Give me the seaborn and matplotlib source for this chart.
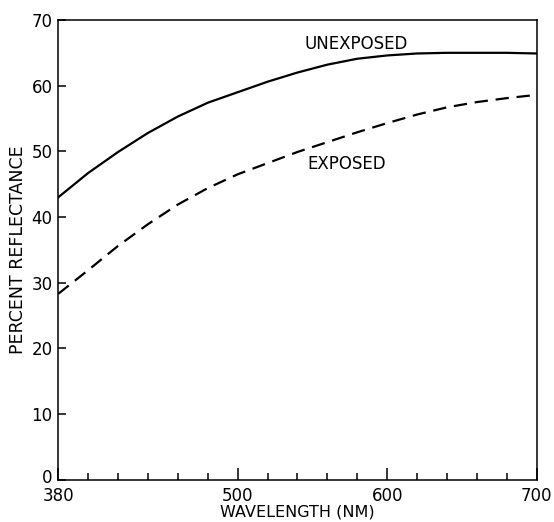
import matplotlib
matplotlib.use("Agg")
import matplotlib.pyplot as plt
import matplotlib.transforms as mtransforms
import seaborn as sns
import pandas as pd
from matplotlib.ticker import MultipleLocator, FixedLocator

wavelength = [380, 400, 420, 440, 460, 480, 500, 520, 540, 560, 580, 600, 620, 640, 660, 680, 700]
unexposed = [43.0, 46.7, 49.9, 52.8, 55.3, 57.4, 59.0, 60.6, 62.0, 63.2, 64.1, 64.6, 64.9, 65.0, 65.0, 65.0, 64.9]
exposed = [28.3, 31.9, 35.6, 38.9, 41.9, 44.4, 46.5, 48.2, 49.9, 51.4, 52.9, 54.3, 55.6, 56.7, 57.5, 58.1, 58.6]
series_names = ["UNEXPOSED", "EXPOSED"]
x_tick_labels = [380, 500, 600, 700]
y_ticks = [0, 10, 20, 30, 40, 50, 60, 70]

df = pd.DataFrame({
    "wavelength": wavelength * 2,
    "reflectance": unexposed + exposed,
    "sample": [series_names[0]] * len(wavelength) + [series_names[1]] * len(wavelength),
})

sns.set_theme(style="white")
plt.rcParams["font.family"] = ["DejaVu Sans"]

fig = plt.figure(figsize=(5.54, 5.22), dpi=100)
ax = fig.add_axes([0.1052, 0.0812, 0.8636, 0.8805])

sns.lineplot(data=df, x="wavelength", y="reflectance", style="sample",
             dashes={"UNEXPOSED": "", "EXPOSED": (6, 3.5)},
             color="black", linewidth=1.6, legend=False, ax=ax)

ax.set_xlim(380, 700)
ax.set_ylim(0, 70)

ax.xaxis.set_major_locator(FixedLocator(x_tick_labels))
ax.xaxis.set_minor_locator(MultipleLocator(20))
ax.set_xticklabels([str(v) for v in x_tick_labels])
ax.yaxis.set_major_locator(FixedLocator(y_ticks))
ax.set_yticklabels([str(v) for v in y_ticks])

ax.tick_params(axis="x", which="major", direction="in", length=9, width=1.1,
               color="black", labelcolor="black", labelsize=12, pad=5,
               bottom=True, top=False)
ax.tick_params(axis="x", which="minor", direction="in", length=5, width=1.1,
               color="black", bottom=True, top=False)
ax.tick_params(axis="y", which="major", direction="in", length=5.5, width=1.1,
               color="black", labelcolor="black", labelsize=12, pad=4,
               left=True, right=False)

# nudge the "0" y label up slightly so it sits clear of the "380" label
zero_label = ax.get_yticklabels()[0]
zero_label.set_transform(zero_label.get_transform() +
                         mtransforms.ScaledTranslation(0, 4 / 100, fig.dpi_scale_trans))

for s in ax.spines.values():
    s.set_color("black")
    s.set_linewidth(1.1)

ax.set_xlabel("WAVELENGTH (NM)", fontsize=11.5, color="black", va="center")
ax.xaxis.set_label_coords(0.5, -0.07)
ax.set_ylabel("PERCENT REFLECTANCE", fontsize=12.5, labelpad=3, color="black")

ax.text(545, 66.4, "UNEXPOSED", fontsize=12, va="center", ha="left", color="black")
ax.text(546.5, 48.1, "EXPOSED", fontsize=12, va="center", ha="left", color="black")

fig.savefig("out.png", dpi=100, facecolor="white")
